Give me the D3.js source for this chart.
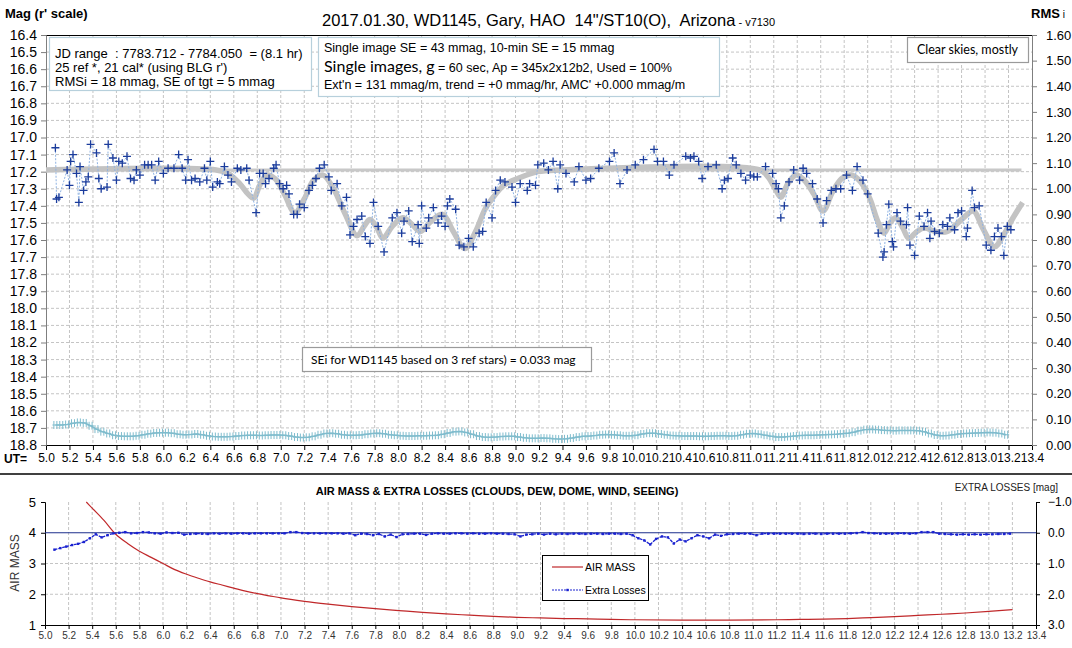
<!DOCTYPE html>
<html><head><meta charset="utf-8">
<script src="https://cdn.jsdelivr.net/npm/d3@7"></script>
<style>
body{margin:0;background:#fff}
svg text{font-family:"Liberation Sans",Arial,sans-serif;white-space:pre}
.cal{font-family:Lato,"Open Sans",sans-serif}
</style></head><body>
<svg id="c" width="1072" height="648"></svg>
<script>
// observed magnitudes (UT hours, r' mag)
const obsUt = [5.08,5.09,5.11,5.18,5.20,5.21,5.23,5.26,5.28,5.29,5.32,5.34,5.36,5.38,5.43,5.45,5.47,5.52,5.53,5.57,
  5.60,5.62,5.65,5.69,5.72,5.75,5.77,5.80,5.84,5.87,5.90,5.93,5.96,6.00,6.04,6.09,6.13,6.16,6.19,6.21,
  6.24,6.27,6.31,6.35,6.37,6.40,6.42,6.46,6.48,6.52,6.55,6.58,6.63,6.66,6.71,6.73,6.79,6.82,6.85,6.87,
  6.90,6.94,6.96,6.99,7.02,7.05,7.07,7.11,7.14,7.16,7.20,7.24,7.27,7.30,7.33,7.37,7.41,7.43,7.48,7.52,
  7.56,7.59,7.62,7.65,7.69,7.72,7.76,7.79,7.83,7.88,7.95,7.99,8.03,8.05,8.09,8.12,8.17,8.18,8.20,8.24,
  8.26,8.30,8.34,8.37,8.40,8.42,8.44,8.49,8.52,8.56,8.60,8.64,8.69,8.72,8.75,8.80,8.83,8.87,8.91,8.97,
  9.00,9.04,9.10,9.12,9.17,9.19,9.24,9.28,9.32,9.36,9.38,9.43,9.50,9.54,9.60,9.64,9.71,9.80,9.84,9.89,
  9.95,10.02,10.09,10.18,10.21,10.26,10.31,10.35,10.45,10.49,10.52,10.56,10.59,10.64,10.71,10.76,10.78,10.81,10.85,10.88,
  10.92,10.96,11.00,11.03,11.06,11.13,11.19,11.22,11.24,11.26,11.29,11.33,11.37,11.42,11.45,11.48,11.53,11.57,11.62,11.65,
  11.69,11.73,11.77,11.82,11.87,11.91,11.96,12.00,12.09,12.13,12.14,12.16,12.18,12.21,12.22,12.25,12.28,12.33,12.34,12.36,
  12.40,12.44,12.48,12.51,12.53,12.54,12.57,12.61,12.64,12.68,12.70,12.74,12.77,12.80,12.84,12.85,12.89,12.91,12.95,13.01,
  13.05,13.08,13.11,13.14,13.16,13.19,13.22];
const obsMag = [17.06,17.36,17.35,17.19,17.28,17.14,17.10,17.21,17.38,17.17,17.31,17.26,17.23,17.04,17.09,17.24,17.30,17.29,17.04,17.12,
  17.25,17.14,17.15,17.11,17.24,17.25,17.19,17.22,17.16,17.16,17.16,17.25,17.14,17.21,17.18,17.18,17.10,17.18,17.25,17.13,
  17.25,17.24,17.26,17.18,17.25,17.14,17.29,17.26,17.27,17.17,17.22,17.26,17.18,17.19,17.18,17.25,17.44,17.21,17.21,17.27,
  17.24,17.18,17.16,17.27,17.30,17.28,17.33,17.45,17.45,17.39,17.41,17.31,17.28,17.24,17.18,17.16,17.23,17.31,17.27,17.40,
  17.35,17.57,17.52,17.48,17.46,17.58,17.62,17.38,17.52,17.67,17.47,17.44,17.56,17.49,17.43,17.61,17.51,17.62,17.40,17.53,
  17.47,17.41,17.50,17.46,17.52,17.40,17.36,17.42,17.63,17.64,17.59,17.64,17.56,17.55,17.38,17.47,17.31,17.25,17.26,17.29,
  17.38,17.27,17.31,17.27,17.28,17.16,17.15,17.19,17.14,17.30,17.16,17.21,17.26,17.17,17.25,17.24,17.18,17.14,17.09,17.27,
  17.19,17.16,17.13,17.07,17.14,17.14,17.22,17.16,17.11,17.12,17.11,17.14,17.24,17.17,17.16,17.30,17.25,17.24,17.12,17.16,
  17.21,17.25,17.22,17.23,17.23,17.17,17.21,17.27,17.30,17.47,17.40,17.26,17.19,17.25,17.18,17.21,17.27,17.36,17.50,17.37,
  17.31,17.30,17.30,17.22,17.31,17.17,17.25,17.33,17.56,17.70,17.67,17.51,17.39,17.61,17.64,17.44,17.49,17.51,17.41,17.63,
  17.69,17.46,17.52,17.44,17.59,17.49,17.55,17.56,17.51,17.52,17.47,17.54,17.44,17.43,17.58,17.53,17.31,17.41,17.40,17.63,
  17.66,17.58,17.53,17.58,17.69,17.52,17.54];

// fitted model (gray)
const fitUt  = [5.0,6.45,6.55,6.65,6.72,6.77,6.82,6.88,6.95,7.03,7.12,7.2,7.28,7.36,7.45,7.55,7.65,7.71,7.76,7.82,7.87,7.95,8.04,8.12,8.19,8.28,8.38,8.47,8.57,8.66,8.74,8.81,8.9,9.02,9.19,9.4,
  11.08,11.15,11.22,11.26,11.32,11.39,11.46,11.54,11.62,11.7,11.78,11.86,11.94,12.02,12.08,12.14,12.19,12.24,12.3,12.35,12.42,12.48,12.58,12.68,12.8,12.9,12.98,13.08,13.15,13.23,13.32];
const fitMag = [17.19,17.19,17.21,17.27,17.33,17.355,17.28,17.22,17.24,17.33,17.44,17.36,17.25,17.22,17.3,17.45,17.575,17.52,17.48,17.53,17.59,17.52,17.47,17.51,17.55,17.49,17.45,17.55,17.65,17.55,17.42,17.35,17.28,17.24,17.2,17.19,
  17.19,17.23,17.31,17.35,17.27,17.22,17.25,17.33,17.43,17.32,17.24,17.22,17.26,17.36,17.48,17.56,17.5,17.47,17.53,17.59,17.55,17.53,17.55,17.55,17.48,17.43,17.53,17.64,17.58,17.48,17.38];
const baseMag = 17.19, baseEnd = 13.31;

// RMS (right axis), one value every 0.05 hr from 5.08
const rmsStart = 5.08, rmsStep = 0.05;
const rmsVal = [.078,.078,.080,.085,.088,.086,.075,.062,.052,.045,.038,.035,.034,.034,.036,.040,.044,.047,.048,.048,
  .046,.042,.040,.041,.043,.040,.036,.033,.032,.032,.033,.035,.037,.038,.038,.037,.038,.039,.039,.038,
  .035,.031,.029,.030,.034,.040,.045,.046,.044,.040,.038,.038,.039,.042,.045,.046,.044,.040,.038,.036,
  .035,.035,.036,.036,.037,.038,.042,.047,.052,.053,.049,.042,.035,.031,.030,.031,.033,.034,.034,.031,
  .028,.026,.026,.027,.026,.024,.023,.024,.027,.031,.034,.035,.037,.040,.041,.040,.038,.036,.036,.038,
  .043,.046,.046,.043,.040,.037,.036,.035,.035,.035,.034,.034,.035,.036,.036,.035,.036,.040,.044,.045,
  .042,.038,.034,.031,.031,.033,.035,.037,.038,.038,.039,.040,.041,.042,.044,.046,.050,.056,.060,.061,
  .060,.058,.057,.056,.057,.057,.057,.056,.052,.045,.039,.036,.037,.040,.043,.045,.046,.047,.048,.049,
  .048,.045,.040];

// air mass
const amUt  = [5.35,5.4,5.5,5.6,5.7,5.8,5.9,6.0,6.1,6.2,6.3,6.4,6.5,6.6,6.7,6.8,6.9,7.0,7.2,7.4,7.6,7.8,8.0,8.2,8.4,8.6,8.8,9.0,9.2,9.4,9.6,9.8,10.0,10.4,10.8,11.2,11.4,11.6,11.8,12.0,12.2,12.4,12.6,12.8,13.0,13.2];
const amVal = [5.0,4.8,4.4,3.95,3.65,3.4,3.2,3.0,2.8,2.65,2.52,2.4,2.3,2.2,2.1,2.02,1.95,1.88,1.77,1.68,1.6,1.53,1.47,1.41,1.36,1.32,1.28,1.25,1.23,1.21,1.2,1.18,1.17,1.16,1.16,1.17,1.18,1.19,1.21,1.24,1.27,1.31,1.35,1.39,1.44,1.5];

// extra losses [mag], one value every 0.05 hr from 5.08
const elStart = 5.08, elStep = 0.05;
const elVal = [.55,.50,.45,.40,.36,.30,.18,.05,.15,.08,.02,.00,-.02,.02,.01,-.02,-.01,.02,.03,-.01,
  .01,.00,.06,.04,.03,.03,.04,.02,.03,.02,.03,.02,.02,.03,.02,.02,.02,.02,.02,.02,
  -.02,-.02,.01,.02,.02,.02,.02,.02,.02,.03,.02,.08,.03,.04,.08,.04,.12,.06,.14,.05,
  .04,.03,.03,.07,.03,.02,.03,.03,.02,.02,.03,.02,.03,.03,.02,.03,.03,.04,.05,.12,
  .06,.05,.03,.06,.03,.05,.03,.04,.03,.03,.04,.03,.03,.04,.03,.03,.04,.03,.08,.18,
  .25,.38,.20,.12,.15,.35,.22,.28,.18,.08,.12,.18,.06,.10,.05,.04,.03,.03,.03,.08,
  .03,.03,.03,.03,.03,.03,.03,.04,.03,.03,.04,.03,.03,.03,.03,.02,.01,-.02,.01,.02,
  .03,.03,.03,.02,.02,.03,.02,-.02,-.02,-.02,.03,.04,.05,.06,.05,.06,.05,.06,.05,.05,
  .04,.04,.03];

const utTicks = d3.range(0, 43).map(i => 5 + i * 0.2);
const magTicks = d3.range(0, 25).map(i => 16.4 + i * 0.1);
const rmsTicks = d3.range(0, 17).map(i => i * 0.1);

const svg = d3.select('#c');
svg.append('rect').attr('width', 1072).attr('height', 648).attr('fill', '#fff');

// ---------- top panel ----------
const x = d3.scaleLinear().domain([5, 13.4]).range([46, 1032]);
const y = d3.scaleLinear().domain([16.4, 18.8]).range([35, 445]);
const yR = d3.scaleLinear().domain([0, 1.6]).range([445, 35]);

const grid = svg.append('g').attr('stroke', '#c4c4c4').attr('stroke-dasharray', '3,2').attr('stroke-width', 1);
utTicks.slice(1, -1).forEach(t => grid.append('line').attr('x1', x(t)).attr('x2', x(t)).attr('y1', 35).attr('y2', 445));
magTicks.slice(1, -1).forEach(m => grid.append('line').attr('x1', 46).attr('x2', 1032).attr('y1', y(m)).attr('y2', y(m)));

svg.append('line').attr('x1', 46).attr('x2', 1032).attr('y1', 35.5).attr('y2', 35.5).attr('stroke', '#000');

const ax = svg.append('g').attr('transform', 'translate(0,445)')
  .call(d3.axisBottom(x).tickValues(utTicks).tickSize(5).tickPadding(3).tickFormat(d3.format('.1f')));
ax.select('.domain').attr('stroke', '#000');
ax.selectAll('text').attr('font-size', 12).attr('fill', '#000').style('font-family', '"Liberation Sans",Arial');

const ay = svg.append('g').attr('transform', 'translate(46,0)')
  .call(d3.axisLeft(y).tickValues(magTicks).tickSize(5).tickPadding(4).tickFormat(d3.format('.1f')));
ay.select('.domain').attr('stroke', '#7f7f7f');
ay.selectAll('.tick line').attr('stroke', '#7f7f7f');
ay.selectAll('text').attr('font-size', 14).attr('fill', '#000').style('font-family', '"Liberation Sans",Arial');

const ayR = svg.append('g').attr('transform', 'translate(1032,0)')
  .call(d3.axisRight(yR).tickValues(rmsTicks).tickSize(5).tickPadding(9).tickFormat(d3.format('.2f')));
ayR.select('.domain').attr('stroke', '#7f7f7f');
ayR.selectAll('.tick line').attr('stroke', '#7f7f7f');
ayR.selectAll('text').attr('font-size', 13).attr('fill', '#000').style('font-family', '"Liberation Sans",Arial');

// baseline + model
svg.append('line').attr('x1', x(5)).attr('x2', x(baseEnd)).attr('y1', y(baseMag)).attr('y2', y(baseMag))
  .attr('stroke', '#c8c8c8').attr('stroke-width', 3);
const fit = fitUt.map((u, i) => [u, fitMag[i]]);
svg.append('path').datum(fit)
  .attr('d', d3.line().x(d => x(d[0])).y(d => y(d[1])).curve(d3.curveCatmullRom.alpha(0.5)))
  .attr('fill', 'none').attr('stroke', '#c3c3c3').attr('stroke-width', 5.5).attr('stroke-linejoin', 'round');

// observations
const obs = obsUt.map((u, i) => [u, obsMag[i]]);
svg.append('path').datum(obs)
  .attr('d', d3.line().x(d => x(d[0])).y(d => y(d[1])))
  .attr('fill', 'none').attr('stroke', '#8fb3e3').attr('stroke-width', 1).attr('stroke-dasharray', '2,1.5');
svg.append('g').selectAll('path').data(obs).join('path')
  .attr('transform', d => `translate(${x(d[0])},${y(d[1])})`)
  .attr('d', 'M-4,0H4M0,-4V4').attr('stroke', '#1b3c9c').attr('stroke-width', 1.3);

// RMS
const rms = rmsVal.map((v, i) => [rmsStart + i * rmsStep, v]);
svg.append('path').datum(rms)
  .attr('d', d3.line().x(d => x(d[0])).y(d => yR(d[1])))
  .attr('fill', 'none').attr('stroke', '#7fbccd').attr('stroke-width', 1.5);
svg.append('g').selectAll('path').data(rms).join('path')
  .attr('transform', d => `translate(${x(d[0])},${yR(d[1])})`)
  .attr('d', 'M-3,0H3M-1.5,-4V4M1.5,-4V4').attr('stroke', '#7fbccd').attr('stroke-width', 1);

// titles
svg.append('text').attr('x', 5).attr('y', 18).attr('font-size', 13).attr('font-weight', 'bold').text("Mag (r' scale)");
const tt = svg.append('text').attr('x', 322).attr('y', 26).attr('font-size', 16.5);
tt.append('tspan').text('2017.01.30, WD1145, Gary, HAO  14"/ST10(O),  Arizona');
tt.append('tspan').attr('font-size', 11).text(' - v7130');
const rt = svg.append('text').attr('x', 1031).attr('y', 18).attr('font-size', 13).attr('font-weight', 'bold');
rt.append('tspan').text('RMS');
rt.append('tspan').attr('font-weight', 'normal').attr('font-size', 10).text(' i');
svg.append('text').attr('x', 4).attr('y', 463).attr('font-size', 12).attr('font-weight', 'bold').text('UT=');

// info boxes
function box(x0, y0, w, h, col) {
  svg.append('rect').attr('x', x0 + 0.5).attr('y', y0 + 0.5).attr('width', w).attr('height', h)
    .attr('fill', '#fff').attr('stroke', col).attr('stroke-width', 1.2);
}
box(49, 37, 262, 53, '#b7d0dc');
['JD range  : 7783.712 - 7784.050  = (8.1 hr)', "25 ref *, 21 cal* (using BLG r')", 'RMSi = 18 mmag, SE of tgt = 5 mmag']
  .forEach((s, i) => svg.append('text').attr('x', 55).attr('y', 58 + i * 14).attr('font-size', 13).text(s));

box(318, 37, 401, 59, '#b7d0dc');
svg.append('text').attr('x', 324).attr('y', 52).attr('font-size', 12.5).text('Single image SE = 43 mmag, 10-min SE = 15 mmag');
const l2 = svg.append('text').attr('x', 324).attr('y', 72).attr('font-size', 12.5);
l2.append('tspan').attr('class', 'cal').attr('font-size', 16).text('Single images, g');
l2.append('tspan').text(' = 60 sec, Ap = 345x2x12b2, Used = 100%');
svg.append('text').attr('x', 324).attr('y', 89).attr('font-size', 12.5).text("Ext'n = 131 mmag/m, trend = +0 mmag/hr, AMC' +0.000 mmag/m");

box(907, 37, 121, 25, '#9a9a9a');
svg.append('text').attr('class', 'cal').attr('x', 967.5).attr('y', 54).attr('text-anchor', 'middle').attr('font-size', 12.5).text('Clear skies, mostly');

box(302, 347, 289, 24, '#9a9a9a');
svg.append('text').attr('class', 'cal').attr('x', 311).attr('y', 364).attr('font-size', 12).text('SEi for WD1145 based on 3 ref stars) = 0.033 mag');

// separator
svg.append('line').attr('x1', 0).attr('x2', 1072).attr('y1', 474).attr('y2', 474).attr('stroke', '#000').attr('stroke-width', 1.5);

// ---------- bottom panel ----------
const xb = d3.scaleLinear().domain([5, 13.4]).range([45, 1036]);
const ya = d3.scaleLinear().domain([1, 5]).range([625, 502]);
const ye = d3.scaleLinear().domain([-1, 3]).range([502, 625]);

const g2 = svg.append('g').attr('stroke', '#c4c4c4').attr('stroke-dasharray', '3,2');
utTicks.slice(1, -1).forEach(t => g2.append('line').attr('x1', xb(t)).attr('x2', xb(t)).attr('y1', 502).attr('y2', 625));
[2, 3].forEach(a => g2.append('line').attr('x1', 45).attr('x2', 1036).attr('y1', ya(a)).attr('y2', ya(a)));

const bx = svg.append('g').attr('transform', 'translate(0,625)')
  .call(d3.axisBottom(xb).tickValues(utTicks).tickSize(4).tickPadding(3).tickFormat(d3.format('.1f')));
bx.select('.domain').attr('stroke', '#000');
bx.selectAll('text').attr('font-size', 10).attr('fill', '#333').style('font-family', '"Liberation Sans",Arial');

const by = svg.append('g').attr('transform', 'translate(45,0)')
  .call(d3.axisLeft(ya).tickValues([1, 2, 3, 4, 5]).tickSize(4).tickPadding(5).tickFormat(d3.format('d')));
by.select('.domain').attr('stroke', '#000');
by.selectAll('text').attr('font-size', 13).attr('fill', '#000').style('font-family', '"Liberation Sans",Arial');

const byR = svg.append('g').attr('transform', 'translate(1036,0)')
  .call(d3.axisRight(ye).tickValues([-1, 0, 1, 2, 3]).tickSize(4).tickPadding(8).tickFormat(d3.format('.1f')));
byR.select('.domain').attr('stroke', '#000');
byR.selectAll('text').attr('font-size', 12).attr('fill', '#000').style('font-family', '"Liberation Sans",Arial');

svg.append('text').attr('transform', 'translate(19,563) rotate(-90)').attr('text-anchor', 'middle')
  .attr('font-size', 12).attr('fill', '#333').text('AIR MASS');
svg.append('text').attr('x', 497).attr('y', 495).attr('text-anchor', 'middle').attr('font-size', 11)
  .attr('font-weight', 'bold').text('AIR MASS & EXTRA LOSSES (CLOUDS, DEW, DOME, WIND, SEEING)');
svg.append('text').attr('x', 1058).attr('y', 491).attr('text-anchor', 'end').attr('font-size', 10).attr('fill', '#222').text('EXTRA LOSSES [mag]');

// zero line of extra losses
svg.append('line').attr('x1', 45).attr('x2', 1036).attr('y1', ye(0)).attr('y2', ye(0)).attr('stroke', '#1c2f8c').attr('stroke-width', 1.2);

// air mass curve
svg.append('path').datum(amUt.map((u, i) => [u, amVal[i]]))
  .attr('d', d3.line().x(d => xb(d[0])).y(d => ya(d[1])).curve(d3.curveMonotoneX))
  .attr('fill', 'none').attr('stroke', '#c0282a').attr('stroke-width', 1.2);

// extra losses
const el = elVal.map((v, i) => [elStart + i * elStep, v]);
svg.append('path').datum(el)
  .attr('d', d3.line().x(d => xb(d[0])).y(d => ye(d[1])))
  .attr('fill', 'none').attr('stroke', '#1a22d0').attr('stroke-width', 1.3).attr('stroke-dasharray', '3,1');
svg.append('g').selectAll('rect').data(el).join('rect')
  .attr('x', d => xb(d[0]) - 1.2).attr('y', d => ye(d[1]) - 1.2).attr('width', 2.4).attr('height', 2.4).attr('fill', '#1a22d0');

// legend
svg.append('rect').attr('x', 542.5).attr('y', 555.5).attr('width', 106).attr('height', 45).attr('fill', '#fff').attr('stroke', '#000');
svg.append('line').attr('x1', 552).attr('x2', 583).attr('y1', 567).attr('y2', 567).attr('stroke', '#c0282a').attr('stroke-width', 1.2);
svg.append('line').attr('x1', 552).attr('x2', 583).attr('y1', 590).attr('y2', 590).attr('stroke', '#1a22d0').attr('stroke-dasharray', '2,1');
svg.append('rect').attr('x', 566.3).attr('y', 588.8).attr('width', 2.4).attr('height', 2.4).attr('fill', '#1a22d0');
svg.append('text').attr('x', 585).attr('y', 571).attr('font-size', 10.5).text('AIR MASS');
svg.append('text').attr('x', 585).attr('y', 594).attr('font-size', 10.5).text('Extra Losses');
</script></body></html>
